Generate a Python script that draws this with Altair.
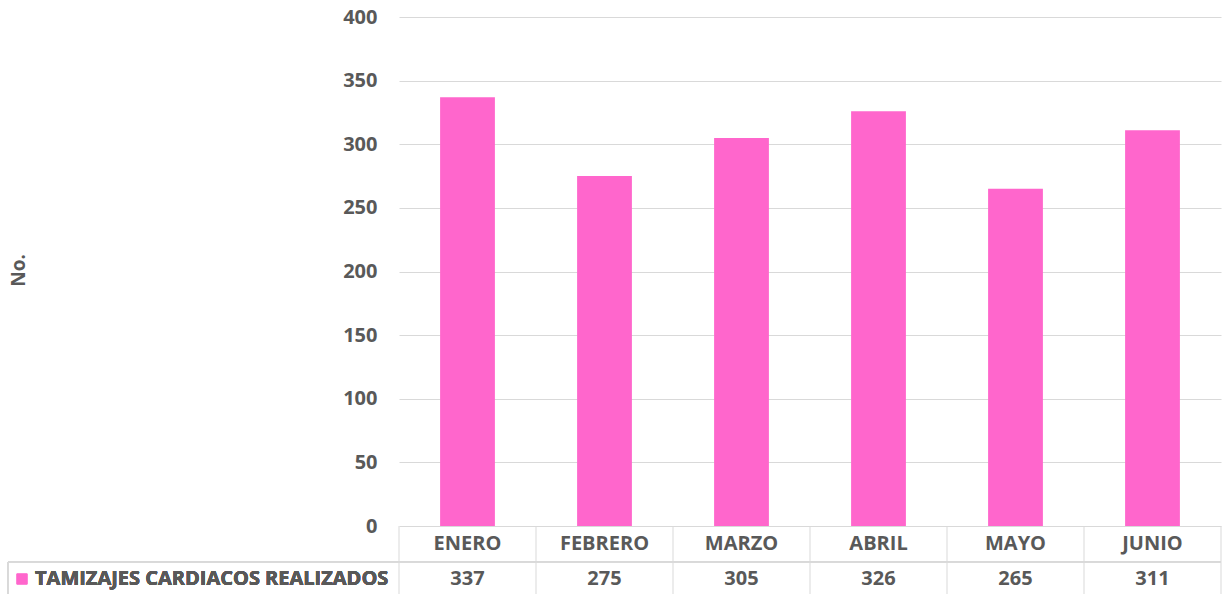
import altair as alt
import pandas as pd

# Monthly cardiac screenings, January to June
months = ["ENERO", "FEBRERO", "MARZO", "ABRIL", "MAYO", "JUNIO"]
values = [337, 275, 305, 326, 265, 311]
series_name = "TAMIZAJES CARDIACOS REALIZADOS"
y_ticks = [0, 50, 100, 150, 200, 250, 300, 350, 400]

PINK = "#FF66CC"
TEXT = "#595959"
GRID = "#D9D9D9"
FONT = "Open Sans"
FS = 20

W, H = 822, 509          # plot area
ROW1_Y = H + 18          # month row (centre)
ROW_SEP = H + 36         # line between table rows
ROW2_Y = H + 53          # values row (centre)
TABLE_LEFT = -391        # left edge of the data table
TABLE_BOTTOM = H + 80

df = pd.DataFrame({"mes": months, "valor": values})
bounds = pd.DataFrame({"b": list(range(len(months) + 1))})

x_band = alt.X("mes:N", sort=months,
               scale=alt.Scale(paddingInner=0.6, paddingOuter=0.3),
               axis=None)

bars = alt.Chart(df).mark_bar(color=PINK).encode(
    x=x_band,
    y=alt.Y("valor:Q",
            scale=alt.Scale(domain=[0, 400], nice=False),
            axis=alt.Axis(values=y_ticks, grid=True, gridColor=GRID, gridWidth=1,
                          domain=False, ticks=False, labelPadding=22,
                          labelFont=FONT, labelFontSize=FS, labelFontWeight="bold",
                          labelColor=TEXT,
                          title="No.", titleFont=FONT, titleFontSize=FS - 1,
                          titleFontWeight="bold", titleColor=TEXT,
                          titleX=-381, titleY=253, titleAngle=270,
                          titleAlign="center", titleBaseline="middle")),
)

month_text = alt.Chart(df).mark_text(
    font=FONT, fontSize=FS, fontWeight="bold", color=TEXT, baseline="middle"
).encode(x=x_band, y=alt.value(ROW1_Y), text="mes:N")

value_text = alt.Chart(df).mark_text(
    font=FONT, fontSize=FS, fontWeight="bold", color=TEXT, baseline="middle"
).encode(x=x_band, y=alt.value(ROW2_Y), text="valor:Q")

# Data-table grid: vertical separators on category boundaries
v_lines = alt.Chart(bounds).mark_rule(color=GRID, strokeWidth=1).encode(
    x=alt.X("b:Q", scale=alt.Scale(domain=[0, len(months)], nice=False, zero=False),
            axis=None),
    y=alt.value(H),
    y2=alt.value(TABLE_BOTTOM),
)

h_line = alt.Chart(df).mark_rule(color=GRID, strokeWidth=1).encode(
    x=alt.value(TABLE_LEFT), x2=alt.value(W), y=alt.value(ROW_SEP)
)
left_line = alt.Chart(df).mark_rule(color=GRID, strokeWidth=1).encode(
    x=alt.value(TABLE_LEFT), y=alt.value(ROW_SEP), y2=alt.value(TABLE_BOTTOM)
)

legend_key = alt.Chart(df).mark_square(color=PINK, size=110, opacity=1).encode(
    x=alt.value(TABLE_LEFT + 14), y=alt.value(ROW2_Y)
)
legend_text = alt.Chart(df).mark_text(
    font=FONT, fontSize=FS, fontWeight="bold", color=TEXT,
    align="left", baseline="middle", text=series_name
).encode(x=alt.value(TABLE_LEFT + 27), y=alt.value(ROW2_Y))

chart = alt.layer(
    bars, v_lines, h_line, left_line, month_text, value_text, legend_key, legend_text
).resolve_scale(x="independent").properties(
    width=W, height=H,
    autosize=alt.AutoSizeParams(type="none"),
    padding={"left": 399, "top": 17, "right": 3, "bottom": 68},
).configure(background="white", view=alt.ViewConfig(stroke=None))

chart.save("out.html", embed_options={"renderer": "svg", "actions": False})
